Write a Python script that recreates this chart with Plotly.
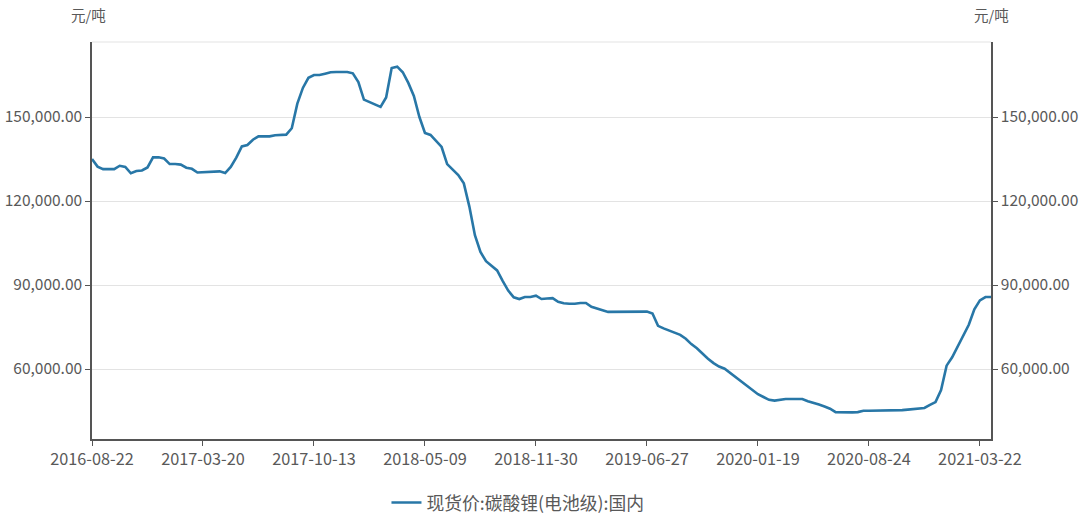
import plotly.graph_objects as go

# Tick labels of the category (trading-day) x axis, one every 20 sampled points
tick_labels = ["2016-08-22", "2017-03-20", "2017-10-13", "2018-05-09", "2018-11-30",
               "2019-06-27", "2020-01-19", "2020-08-24", "2021-03-22"]
tick_step = 20

# 现货价:碳酸锂(电池级):国内, 元/吨, sampled at equal steps along the axis
price = [
    135000, 132300, 131400, 131400, 131400, 132600, 132200, 129900, 130700, 130900,
    132000, 135600, 135600, 135200, 133200, 133200, 133000, 131900, 131500, 130200,
    130300, 130400, 130600, 130600, 130000, 132200, 135500, 139500, 140000, 141900,
    143100, 143100, 143100, 143500, 143500, 143700, 146000, 154800, 160400, 164000,
    165000, 165000, 165500, 166000, 166100, 166100, 166100, 165600, 162500, 156200,
    155400, 154500, 153600, 157000, 167500, 168000, 166000, 162200, 157500, 150000,
    144300, 143600, 141500, 139300, 133200, 131300, 129300, 126300, 118000, 107800,
    101800, 98500, 96800, 95200, 91500, 88000, 85600, 85000, 85700, 85700,
    86200, 85000, 85200, 85300, 84000, 83500, 83300, 83300, 83600, 83600,
    82200, 81700, 81000, 80400, 80400, 80400, 80500, 80500, 80600, 80600,
    80500, 79800, 75400, 74500, 73800, 72900, 72200, 70800, 68900, 67400,
    65400, 63700, 62100, 60900, 60100, 58600, 57200, 55800, 54200, 52600,
    51000, 50000, 49000, 48700, 49100, 49300, 49300, 49300, 49300, 48500,
    48000, 47300, 46600, 45800, 44600, 44500, 44500, 44500, 44600, 45100,
    45100, 45100, 45100, 45100, 45200, 45200, 45300, 45500, 45700, 45900,
    46100, 47200, 48200, 52500, 61200, 64200, 68000, 71800, 75800, 81300,
    84500, 85700, 85700,
]
y_ticks = [60000, 90000, 120000, 150000]
y_range = [35000, 176800]
series_name = "现货价:碳酸锂(电池级):国内"
unit = "元/吨"

idx = list(range(len(price)))
tick_pos = [i * tick_step for i in range(len(tick_labels))]

line_color = "#2877a7"
axis_color = "#555555"
grid_color = "#e3e3e3"
text_color = "#595959"
font_family = "Noto Sans CJK SC, Open Sans, sans-serif"

fig = go.Figure()
fig.add_trace(go.Scatter(x=idx, y=price, mode="lines", name=series_name,
                         line=dict(color=line_color, width=2.6)))
fig.add_trace(go.Scatter(x=idx, y=price, mode="lines", yaxis="y2", showlegend=False,
                         hoverinfo="skip", line=dict(color="rgba(0,0,0,0)", width=0)))

common_y = dict(range=y_range, tickvals=y_ticks, tickformat=",.2f",
                showline=True, linecolor=axis_color, linewidth=1.5,
                ticks="outside", ticklen=5, tickcolor=axis_color,
                tickfont=dict(size=15.5, color=text_color, family=font_family),
                zeroline=False, automargin=False)

fig.update_layout(
    width=1080, height=521,
    margin=dict(l=92, r=89, t=42, b=82, autoexpand=False),
    paper_bgcolor="white", plot_bgcolor="white",
    font=dict(family=font_family, color=text_color),
    xaxis=dict(range=[0, len(price) - 1], tickvals=tick_pos, ticktext=tick_labels,
               showline=True, linecolor=axis_color, linewidth=1.5,
               ticks="outside", ticklen=5, tickcolor=axis_color,
               showgrid=False, zeroline=False, automargin=False,
               tickfont=dict(size=16.3, color=text_color, family=font_family)),
    yaxis=dict(side="left", showgrid=True, gridcolor=grid_color, gridwidth=1.2, **common_y),
    yaxis2=dict(side="right", overlaying="y", showgrid=False, **common_y),
    showlegend=True,
    legend=dict(orientation="h", x=0.4796, xanchor="center", xref="container",
                y=18 / 521, yanchor="middle", yref="container",
                font=dict(size=17.8, color=text_color, family=font_family)),
    shapes=[dict(type="line", xref="paper", yref="paper", x0=0, x1=1, y0=1, y1=1,
                 line=dict(color=grid_color, width=1.2))],
    annotations=[
        dict(text=unit, xref="paper", yref="paper", x=0, y=1, xanchor="center",
             yanchor="middle", yshift=28, xshift=-4, showarrow=False,
             font=dict(size=14.5, color=text_color, family=font_family)),
        dict(text=unit, xref="paper", yref="paper", x=1, y=1, xanchor="center",
             yanchor="middle", yshift=28, xshift=0, showarrow=False,
             font=dict(size=14.5, color=text_color, family=font_family)),
    ],
)

fig.write_html("out.html", config={"displayModeBar": False},
               post_script="document.body.style.margin='0';document.body.style.padding='0';")
